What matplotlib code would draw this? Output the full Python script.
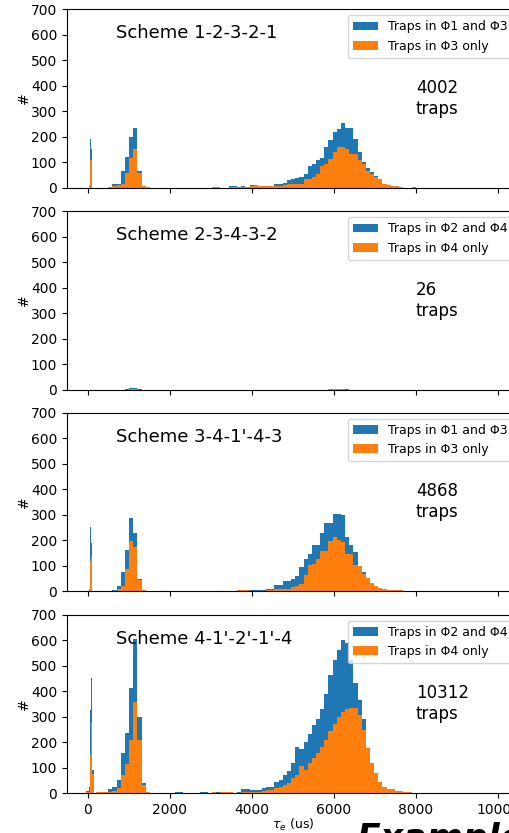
import numpy as np
import matplotlib.pyplot as plt

# ── Bins ──────────────────────────────────────────────────────
# narrow bins for the spike near 0, then regular bins of BIN_W up to ~10000
BIN_W       = 101.2
SPIKE_EDGES = [-25, 25, 55, 90, 120, 160]
N_COARSE    = 98          # coarse bins k = 2 .. 99

# ── Data (counts per bin) ─────────────────────────────────────
schemes      = ['Scheme 1-2-3-2-1', 'Scheme 2-3-4-3-2', "Scheme 3-4-1'-4-3", "Scheme 4-1'-2'-1'-4"]
trap_totals  = [4002, 26, 4868, 10312]
label_all    = ['Traps in Φ1 and Φ3', 'Traps in Φ2 and Φ4', 'Traps in Φ1 and Φ3', 'Traps in Φ2 and Φ4']
label_sub    = ['Traps in Φ3 only', 'Traps in Φ4 only', 'Traps in Φ3 only', 'Traps in Φ4 only']

s1_spike_all = [0, 10, 190, 150, 0]
s1_spike_sub = [0, 8, 108, 108, 0]
s1_all = [0, 0, 0, 2, 15, 15, 63, 120,
          200, 235, 63, 5, 3, 0, 0, 0, 0, 0,
          0, 0, 0, 0, 0, 0, 0, 0, 0, 0,
          3, 3, 0, 0, 4, 6, 2, 4, 3, 9,
          9, 6, 5, 7, 7, 12, 14, 17, 30, 34,
          36, 40, 54, 84, 92, 106, 115, 158, 187, 216,
          230, 254, 234, 234, 191, 139, 100, 77, 60, 47,
          34, 12, 9, 5, 4, 3, 0, 0, 2]
s1_sub = [0, 0, 0, 2, 6, 10, 15, 55,
          115, 152, 55, 5, 3, 0, 0, 0, 0, 0,
          0, 0, 0, 0, 0, 0, 0, 0, 0, 0,
          3, 3, 0, 0, 2, 2, 2, 3, 3, 6,
          8, 4, 4, 4, 4, 6, 6, 8, 12, 13,
          15, 14, 34, 34, 43, 54, 85, 92, 112, 141,
          158, 158, 152, 132, 132, 106, 92, 66, 54, 40,
          34, 12, 9, 5, 4, 3, 0, 0, 2]

s2_spike_all = [0, 0, 0, 0, 0]
s2_spike_sub = [0, 0, 0, 0, 0]
s2_all = [0, 0, 0, 0, 0, 0, 0, 3,
          5, 4, 2, 0, 0, 0, 0, 0, 0, 0,
          0, 0, 0, 0, 0, 0, 0, 0, 0, 0,
          0, 0, 0, 0, 0, 0, 0, 0, 0, 0,
          0, 0, 0, 0, 0, 0, 0, 0, 0, 0,
          0, 0, 0, 0, 0, 0, 0, 0, 2, 3,
          3, 2, 2]
s2_sub = [0, 0, 0, 0, 0, 0, 0, 0,
          1, 1, 0, 0, 0, 0, 0, 0, 0, 0,
          0, 0, 0, 0, 0, 0, 0, 0, 0, 0,
          0, 0, 0, 0, 0, 0, 0, 0, 0, 0,
          0, 0, 0, 0, 0, 0, 0, 0, 0, 0,
          0, 0, 0, 0, 0, 0, 0, 0, 1, 1,
          2, 1, 0]

s3_spike_all = [0, 8, 250, 190, 0]
s3_spike_sub = [0, 8, 117, 139, 0]
s3_all = [0, 0, 0, 0, 5, 18, 73, 162,
          286, 227, 46, 5, 0, 0, 0, 0, 0, 0,
          0, 0, 0, 0, 0, 0, 0, 0, 0, 0,
          0, 0, 0, 0, 0, 0, 3, 3, 3, 3,
          3, 3, 3, 6, 6, 22, 22, 39, 39, 48,
          59, 95, 127, 147, 180, 180, 226, 265, 265, 302,
          302, 300, 213, 180, 154, 97, 75, 52, 33, 20,
          12, 6, 4, 3, 3, 3]
s3_sub = [0, 0, 0, 0, 2, 9, 18, 88,
          196, 173, 42, 5, 0, 0, 0, 0, 0, 0,
          0, 0, 0, 0, 0, 0, 0, 0, 0, 0,
          0, 0, 0, 0, 0, 0, 3, 3, 3, 1,
          1, 1, 2, 3, 3, 6, 6, 9, 9, 16,
          18, 29, 64, 101, 105, 127, 156, 156, 197, 210,
          202, 193, 147, 144, 101, 97, 66, 52, 33, 20,
          12, 6, 4, 3, 3, 3]

s4_spike_all = [8, 23, 327, 451, 89]
s4_spike_sub = [3, 5, 151, 279, 73]
s4_all = [4, 4, 4, 17, 23, 52, 158, 236,
          411, 603, 300, 39, 4, 2, 0, 0, 0, 0,
          0, 3, 3, 0, 0, 2, 0, 3, 3, 0,
          3, 3, 3, 5, 3, 0, 3, 16, 16, 12,
          12, 12, 18, 25, 25, 44, 51, 70, 87, 116,
          182, 171, 200, 233, 266, 292, 331, 390, 461, 520,
          559, 601, 588, 520, 430, 364, 292, 150, 110, 77,
          40, 20, 14, 8, 8, 5, 5, 2, 0, 0,
          0, 0, 0, 0, 0, 2, 0, 0, 0, 2,
          0, 0, 0, 2, 0, 2]
s4_sub = [4, 4, 4, 4, 8, 20, 69, 112,
          206, 356, 208, 30, 4, 2, 0, 0, 0, 0,
          0, 0, 0, 0, 0, 0, 0, 0, 0, 0,
          3, 2, 3, 5, 3, 0, 2, 5, 5, 5,
          5, 5, 8, 12, 12, 18, 25, 31, 40, 57,
          70, 105, 90, 116, 136, 155, 181, 207, 244, 272,
          300, 318, 328, 335, 335, 305, 246, 175, 116, 77,
          44, 25, 14, 14, 8, 8, 5, 5, 0, 0,
          0, 0, 0, 0, 0, 2, 0, 0, 0, 0,
          0, 0, 0, 0, 0, 2]

panels = [
    (s1_spike_all, s1_spike_sub, s1_all, s1_sub),
    (s2_spike_all, s2_spike_sub, s2_all, s2_sub),
    (s3_spike_all, s3_spike_sub, s3_all, s3_sub),
    (s4_spike_all, s4_spike_sub, s4_all, s4_sub),
]

edges = np.concatenate([SPIKE_EDGES, BIN_W * np.arange(2, N_COARSE + 3)])


def full_counts(spike, coarse):
    # spike bins, one empty bin up to the first coarse edge, then coarse bins
    coarse = list(coarse) + [0] * (N_COARSE - len(coarse))
    return np.array(list(spike) + [0] + coarse, dtype=float)


# ── Figure ────────────────────────────────────────────────────
fig = plt.figure(figsize=(5.1, 8.33), dpi=100)

AX_L, AX_W, AX_H = 67 / 510, 451.5 / 510, 178.5 / 833
bottoms = [0.7749, 0.5324, 0.2905, 0.0480]

axes = []
for i, (sp_all, sp_sub, c_all, c_sub) in enumerate(panels):
    ax = fig.add_axes([AX_L, bottoms[i], AX_W, AX_H],
                      sharex=axes[0] if axes else None)
    axes.append(ax)

    ax.stairs(full_counts(sp_all, c_all), edges, fill=True,
              color='#1f77b4', label=label_all[i])
    ax.stairs(full_counts(sp_sub, c_sub), edges, fill=True,
              color='#ff7f0e', label=label_sub[i])

    ax.set_xlim(-500, 10500)
    ax.set_ylim(0, 700)
    ax.set_yticks(np.arange(0, 701, 100))
    ax.set_xticks(np.arange(0, 10001, 2000))
    ax.set_ylabel('#', labelpad=0)

    ax.text(700, 585, schemes[i], fontsize=13)
    ax.text(8000, 350, f'{trap_totals[i]}\ntraps', fontsize=12, va='center')
    ax.legend(loc='upper right', fontsize=9)

    if i < len(panels) - 1:
        ax.tick_params(labelbottom=False)

axes[-1].set_xlabel(r'$\tau_e$ (us)', fontsize=9, labelpad=0)

# slide caption running off the bottom edge
fig.text(357 / 510, 1 - 849 / 833, 'Example 2b', fontsize=25,
         fontweight='bold', style='italic', va='baseline')

plt.savefig('out.png', dpi=100)
